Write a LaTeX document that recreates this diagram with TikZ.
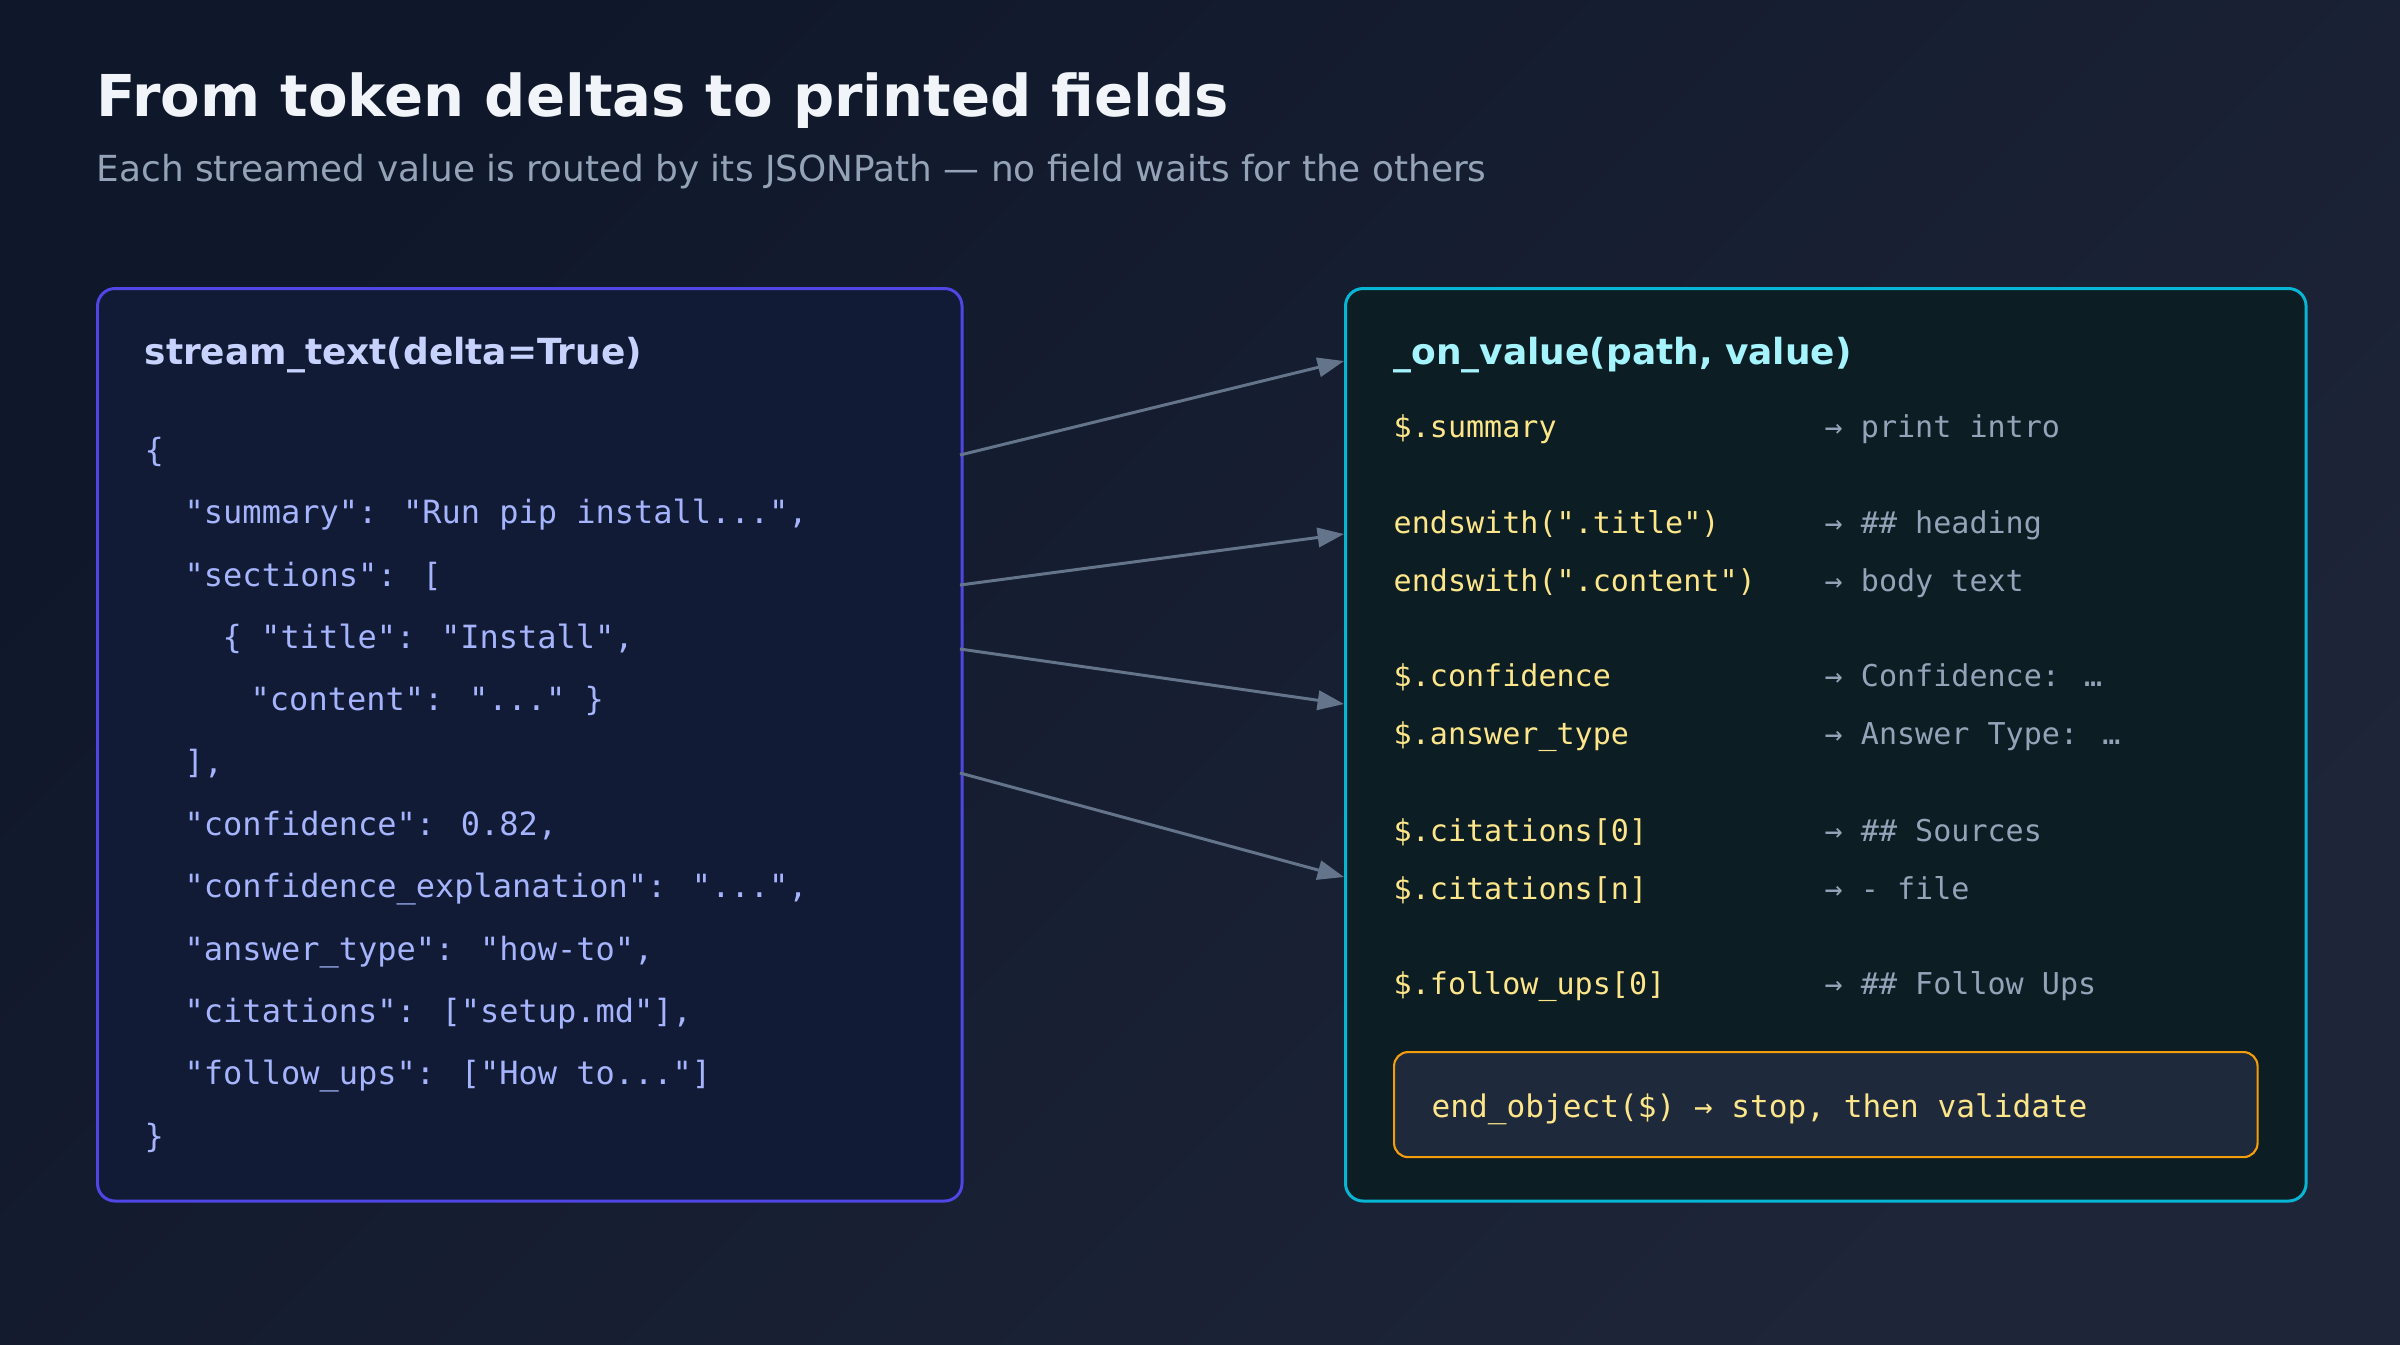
\documentclass[tikz,border=0pt]{standalone}
\usepackage{fontspec}
\setmainfont{DejaVu Sans}
\newfontfamily\codefont{DejaVu Sans Mono}
\usepackage{tikz}
\usetikzlibrary{positioning, arrows.meta}
\definecolor{bgTop}{HTML}{0F172A}
\definecolor{bgBot}{HTML}{1E2538}
\definecolor{titleInk}{HTML}{F1F5F9}
\definecolor{subInk}{HTML}{94A3B8}
\definecolor{jsonFill}{HTML}{111B35}
\definecolor{jsonLine}{HTML}{4F46E5}
\definecolor{jsonHead}{HTML}{C7D2FE}
\definecolor{jsonInk}{HTML}{A5B4FC}
\definecolor{cbFill}{HTML}{0C1D24}
\definecolor{cbLine}{HTML}{06B6D4}
\definecolor{cbHead}{HTML}{A5F3FC}
\definecolor{pathInk}{HTML}{FDE68A}
\definecolor{outInk}{HTML}{94A3B8}
\definecolor{endFill}{HTML}{1E293B}
\definecolor{endLine}{HTML}{F59E0B}
\definecolor{wire}{HTML}{64748B}

\begin{document}
\begin{tikzpicture}[x=0.01cm, y=-0.01cm, >=Stealth,
  panel/.style={line width=0.85pt, rounded corners=5pt, anchor=north west, inner sep=0pt},
  head/.style={anchor=west, inner sep=0pt, font=\bfseries\fontsize{10.22pt}{12pt}\selectfont},
  jsonline/.style={anchor=west, inner sep=0pt, text height=0.7em, text depth=0.2em, text=jsonInk,
    font=\codefont\fontsize{9.1pt}{11pt}\selectfont},
  cbline/.style={anchor=west, inner sep=0pt, text height=0.7em, text depth=0.2em,
    font=\codefont\fontsize{8.55pt}{10pt}\selectfont},
  wireline/.style={draw=wire, line width=0.85pt, -{Triangle[length=7.5pt, width=5.5pt]}}]
  % background
  \shade[top color=bgTop, bottom color=bgBot, shading angle=45] (0,0) rectangle (2400,1344);
  \useasboundingbox (0,0) rectangle (2400,1344);

  % title
  \node[anchor=base west, inner sep=0pt, text=titleInk, font=\bfseries\fontsize{16.4pt}{19pt}\selectfont]
    (title) at (96,116) {From token deltas to printed fields};
  \node[anchor=base west, inner sep=0pt, text=subInk, font=\fontsize{10.2pt}{12pt}\selectfont]
    (subtitle) at (96,181) {Each streamed value is routed by its JSONPath — no field waits for the others};

  % left panel: streamed json
  \node[panel, draw=jsonLine, fill=jsonFill, minimum width=8.64cm, minimum height=9.12cm] (stream) at (96,287) {};
  \node[head, text=jsonHead] (streamhead) at (144,355) {stream\_text(delta=True)};
  \node[jsonline] (l1) at (144,453) {\{};
  \node[jsonline] (l2) at (184,515) {"summary": "Run pip install...",};
  \node[jsonline] (l3) at (184,578) {"sections": [};
  \node[jsonline] (l4) at (222,640) {\{ "title": "Install",};
  \node[jsonline] (l5) at (250,702) {"content": "..." \}};
  \node[jsonline] (l6) at (184,765) {],};
  \node[jsonline] (l7) at (184,827) {"confidence": 0.82,};
  \node[jsonline] (l8) at (184,889) {"confidence\_explanation": "...",};
  \node[jsonline] (l9) at (184,952) {"answer\_type": "how-to",};
  \node[jsonline] (l10) at (184,1014) {"citations": ["setup.md"],};
  \node[jsonline] (l11) at (184,1076) {"follow\_ups": ["How to..."]};
  \node[jsonline] (l12) at (144,1139) {\}};

  % right panel: callback
  \node[panel, draw=cbLine, fill=cbFill, minimum width=9.6cm, minimum height=9.12cm] (router) at (1344,287) {};
  \node[head, text=cbHead] (routerhead) at (1393,355) {\_on\_value(path, value)};
  \foreach \y/\p/\r [count=\i] in {429/\$.summary/print intro,
      525/endswith(".title")/\#\# heading,
      583/endswith(".content")/body text,
      678/\$.confidence/Confidence: …,
      736/\$.answer\_type/Answer Type: …,
      833/\$.citations[0]/\#\# Sources,
      891/\$.citations[n]/- file,
      986/\$.follow\_ups[0]/\#\# Follow Ups} {
    \node[cbline, text=pathInk] (p\i) at (1393,\y) {\p};
    \node[cbline, text=outInk] (r\i) at (1824,\y) {→ \r};
  }
  \node[draw=endLine, fill=endFill, line width=0.6pt, rounded corners=4pt, anchor=north west,
    minimum width=8.63cm, minimum height=1.05cm, inner sep=0pt] (endobj) at (1393,1051) {};
  \node[cbline, text=pathInk, font=\codefont\fontsize{8.85pt}{10pt}\selectfont]
    (endtext) at (1431,1109) {end\_object(\$) → stop, then validate};

  % routing arrows
  \foreach \ys/\ye [count=\i] in {455/361, 585/534, 649/704, 773/877} {
    \coordinate (from\i) at (960,\ys);
    \coordinate (to\i) at (1344,\ye);
    \draw[wireline] (from\i) -- (to\i);
  }
\end{tikzpicture}
\end{document}
